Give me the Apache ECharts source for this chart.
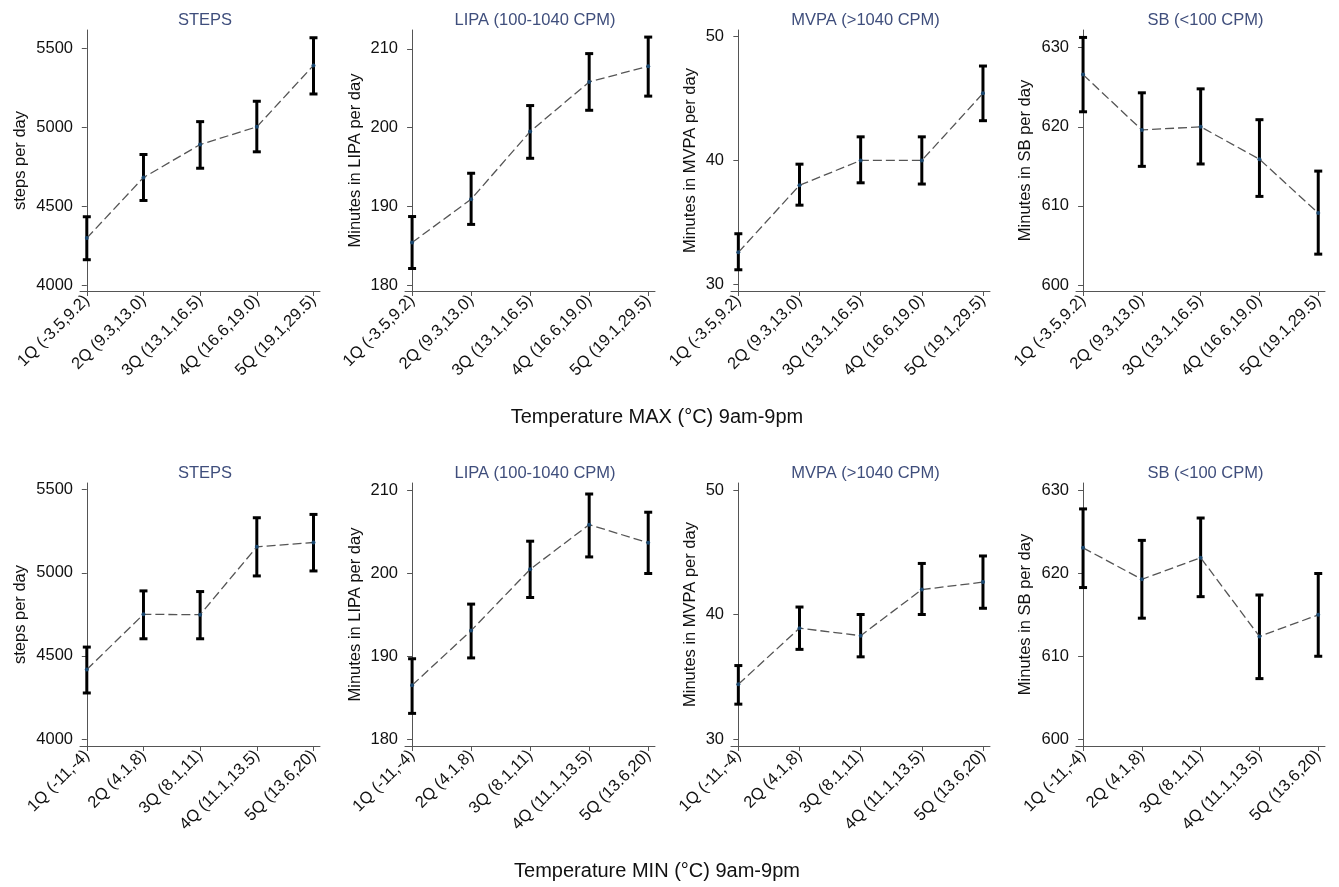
<!DOCTYPE html>
<html>
<head>
<meta charset="utf-8">
<script src="https://cdn.jsdelivr.net/npm/echarts@6/dist/echarts.min.js"></script>
<style>
  html, body { margin: 0; padding: 0; background: #fff; }
  #chart { width: 1339px; height: 887px; }
</style>
</head>
<body>
<div id="chart"></div>
<script>
// categories (quintiles of temperature)
const catsMax = ['1Q (-3.5,9.2)', '2Q (9.3,13.0)', '3Q (13.1,16.5)', '4Q (16.6,19.0)', '5Q (19.1,29.5)'];
const catsMin = ['1Q (-11,-4)', '2Q (4.1,8)', '3Q (8.1,11)', '4Q (11.1,13.5)', '5Q (13.6,20)'];

const panelTitles = ['STEPS', 'LIPA (100-1040 CPM)', 'MVPA (>1040 CPM)', 'SB (<100 CPM)'];
const yNames = ['steps per day', 'Minutes in LIPA per day', 'Minutes in MVPA per day', 'Minutes in SB per day'];
const yTicks = [[4000, 4500, 5000, 5500], [180, 190, 200, 210], [30, 40, 50], [600, 610, 620, 630]];

// Temperature MAX row: mean, lower CI, upper CI
const stepsMax = [4297, 4680, 4889, 5001, 5390];
const stepsMaxLo = [4160, 4535, 4739, 4843, 5209];
const stepsMaxHi = [4432, 4826, 5034, 5163, 5565];
const lipaMax = [185.4, 190.9, 199.5, 205.8, 207.8];
const lipaMaxLo = [182.1, 187.7, 196.1, 202.2, 204.0];
const lipaMaxHi = [188.7, 194.2, 202.8, 209.4, 211.5];
const mvpaMax = [32.6, 38.0, 40.0, 40.0, 45.4];
const mvpaMaxLo = [31.2, 36.4, 38.2, 38.1, 43.2];
const mvpaMaxHi = [34.1, 39.7, 41.9, 41.9, 47.6];
const sbMax = [626.6, 619.6, 620.0, 615.9, 609.1];
const sbMaxLo = [621.9, 615.0, 615.3, 611.2, 603.9];
const sbMaxHi = [631.3, 624.3, 624.8, 620.9, 614.4];

// Temperature MIN row
const stepsMin = [4418, 4750, 4748, 5156, 5182];
const stepsMinLo = [4277, 4603, 4603, 4981, 5011];
const stepsMinHi = [4553, 4891, 4887, 5331, 5351];
const lipaMin = [186.5, 193.1, 200.5, 205.9, 203.7];
const lipaMinLo = [183.1, 189.8, 197.1, 202.0, 200.0];
const lipaMinHi = [189.7, 196.3, 203.9, 209.6, 207.4];
const mvpaMin = [34.4, 38.9, 38.3, 42.0, 42.6];
const mvpaMinLo = [32.8, 37.2, 36.6, 40.0, 40.5];
const mvpaMinHi = [35.9, 40.6, 40.0, 44.1, 44.7];
const sbMin = [623.1, 619.3, 621.9, 612.4, 615.0];
const sbMinLo = [618.3, 614.6, 617.2, 607.3, 610.0];
const sbMinHi = [627.8, 624.0, 626.7, 617.4, 620.0];

const rows = [
  { cats: catsMax, top: 30, height: 261, label: 'Temperature MAX (\u00b0C) 9am-9pm', labelTop: 402,
    ranges: [[3962, 5614], [179.24, 212.4], [29.49, 50.5], [599.24, 632.24]],
    data: [[stepsMax, stepsMaxLo, stepsMaxHi], [lipaMax, lipaMaxLo, lipaMaxHi],
           [mvpaMax, mvpaMaxLo, mvpaMaxHi], [sbMax, sbMaxLo, sbMaxHi]] },
  { cats: catsMin, top: 483, height: 263, label: 'Temperature MIN (\u00b0C) 9am-9pm', labelTop: 856,
    ranges: [[3958, 5540], [179.16, 210.93], [29.44, 50.56], [599.16, 630.93]],
    data: [[stepsMin, stepsMinLo, stepsMinHi], [lipaMin, lipaMinLo, lipaMinHi],
           [mvpaMin, mvpaMinLo, mvpaMinHi], [sbMin, sbMinLo, sbMinHi]] }
];

const cols = [
  { left: 80, width: 240, nameGap: 51 },
  { left: 405, width: 250, nameGap: 41 },
  { left: 731, width: 259, nameGap: 32 },
  { left: 1076, width: 249, nameGap: 42 }
];

const FONT = 'Liberation Sans, Arial, sans-serif';
const AXIS_COLOR = '#555';

const grid = [], xAxis = [], yAxis = [], series = [], title = [];

rows.forEach((row, r) => {
  cols.forEach((col, c) => {
    const idx = r * 4 + c;
    grid.push({ left: col.left, top: row.top, width: col.width, height: row.height });
    title.push({
      text: panelTitles[c], left: col.left + col.width / 2, top: row.top - 23, textAlign: 'center',
      textStyle: { fontFamily: FONT, fontSize: 16.5, fontWeight: 'normal', color: '#3f4e7c' }
    });
    xAxis.push({
      type: 'value', gridIndex: idx, min: -0.12, max: 4.115,
      splitLine: { show: false },
      axisLine: { show: true, lineStyle: { color: AXIS_COLOR, width: 1 } },
      axisTick: { show: true, length: 5, customValues: [0, 1, 2, 3, 4], lineStyle: { color: AXIS_COLOR } },
      axisLabel: {
        customValues: [0, 1, 2, 3, 4], rotate: 45, margin: 7,
        formatter: v => row.cats[Math.round(v)],
        fontFamily: FONT, fontSize: 16.5, color: '#111'
      }
    });
    yAxis.push({
      type: 'value', gridIndex: idx, min: row.ranges[c][0], max: row.ranges[c][1],
      name: yNames[c], nameLocation: 'middle', nameGap: col.nameGap, nameRotate: 90,
      nameTextStyle: { fontFamily: FONT, fontSize: 16.5, color: '#111' },
      splitLine: { show: false },
      axisLine: { show: true, lineStyle: { color: AXIS_COLOR, width: 1 } },
      axisTick: { show: true, length: 5, customValues: yTicks[c], lineStyle: { color: AXIS_COLOR } },
      axisLabel: {
        customValues: yTicks[c], margin: 7, formatter: v => String(v),
        fontFamily: FONT, fontSize: 16.5, color: '#111'
      }
    });
    const [mean, lo, hi] = row.data[c];
    series.push({
      type: 'custom', xAxisIndex: idx, yAxisIndex: idx, z: 2,
      data: mean.map((m, i) => [i, lo[i], hi[i]]),
      encode: { x: 0, y: [1, 2] },
      renderItem: (params, api) => {
        const p1 = api.coord([api.value(0), api.value(1)]);
        const p2 = api.coord([api.value(0), api.value(2)]);
        const cap = 4;
        const style = { stroke: '#000', lineWidth: 3 };
        return {
          type: 'group',
          children: [
            { type: 'line', shape: { x1: p1[0], y1: p1[1], x2: p2[0], y2: p2[1] }, style },
            { type: 'line', shape: { x1: p1[0] - cap, y1: p1[1], x2: p1[0] + cap, y2: p1[1] }, style },
            { type: 'line', shape: { x1: p2[0] - cap, y1: p2[1], x2: p2[0] + cap, y2: p2[1] }, style }
          ]
        };
      }
    });
    series.push({
      type: 'line', xAxisIndex: idx, yAxisIndex: idx, z: 3,
      data: mean.map((m, i) => [i, m]),
      symbol: 'circle', symbolSize: 4,
      itemStyle: { color: '#1a476f' },
      lineStyle: { color: '#555', width: 1.3, type: [9, 4] },
      silent: true
    });
  });
  title.push({
    text: row.label, left: 652, top: row.labelTop, textAlign: 'center',
    textStyle: { fontFamily: FONT, fontSize: 20, fontWeight: 'normal', color: '#111' }
  });
});

const chart = echarts.init(document.getElementById('chart'));
chart.setOption({
  animation: false,
  backgroundColor: '#fff',
  title, grid, xAxis, yAxis, series
});
</script>
</body>
</html>
